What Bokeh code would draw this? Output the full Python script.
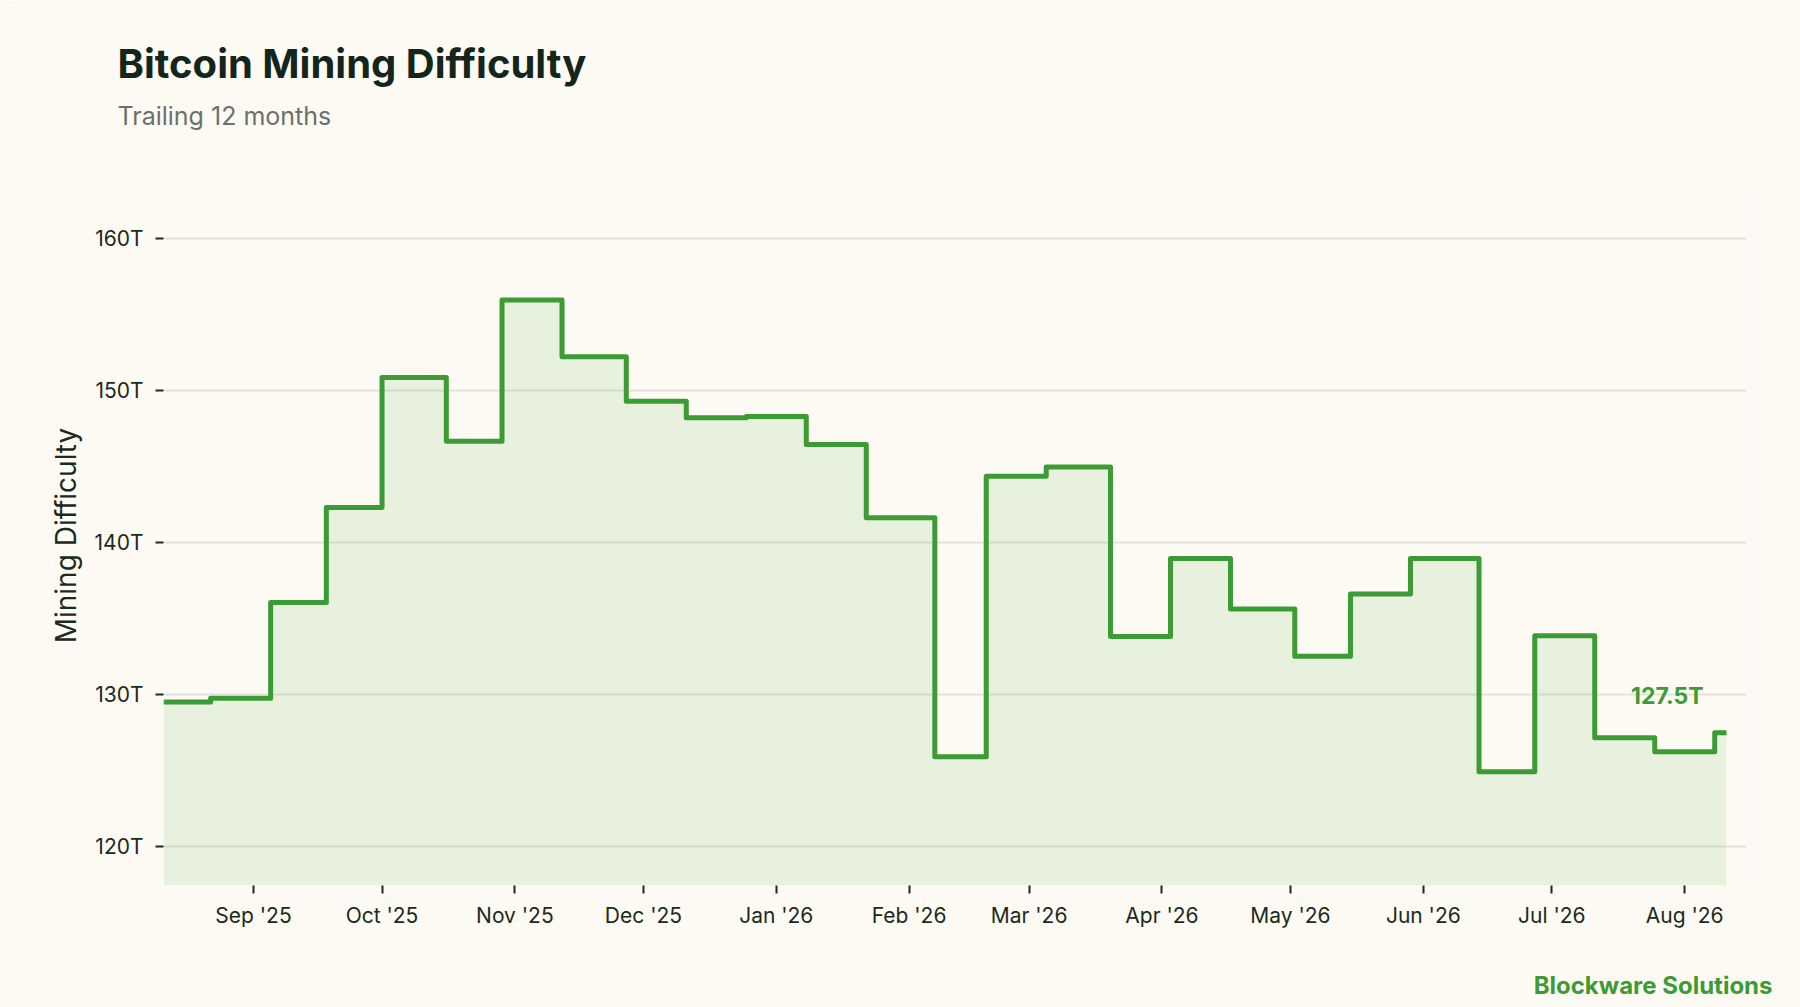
import pandas as pd
from bokeh.plotting import figure
from bokeh.models import Range1d, FixedTicker, Label, Title
from bokeh.embed import file_html
from bokeh.resources import INLINE

# difficulty adjustments (date the new level starts, level in T)
adjust_dates = ["2025-08-11", "2025-08-22", "2025-09-05", "2025-09-18", "2025-10-01",
                "2025-10-16", "2025-10-29", "2025-11-12", "2025-11-27", "2025-12-11",
                "2025-12-25", "2026-01-08", "2026-01-22", "2026-02-07", "2026-02-19",
                "2026-03-05", "2026-03-20", "2026-04-03", "2026-04-17", "2026-05-02",
                "2026-05-15", "2026-05-29", "2026-06-14", "2026-06-27", "2026-07-11",
                "2026-07-25", "2026-08-08"]
difficulty_t = [129.50, 129.76, 136.05, 142.30, 150.87, 146.67, 155.97, 152.23, 149.30,
                148.21, 148.30, 146.45, 141.64, 125.91, 144.37, 144.97, 133.82, 138.95,
                135.62, 132.52, 136.62, 138.95, 124.92, 133.87, 127.15, 126.23, 127.48]
last_date = "2026-08-10 18:00"
latest_label = "127.5T"

month_ticks = ["2025-09-01", "2025-10-01", "2025-11-01", "2025-12-01", "2026-01-01",
               "2026-02-01", "2026-03-01", "2026-04-01", "2026-05-01", "2026-06-01",
               "2026-07-01", "2026-08-01"]
month_labels = ["Sep '25", "Oct '25", "Nov '25", "Dec '25", "Jan '26", "Feb '26",
                "Mar '26", "Apr '26", "May '26", "Jun '26", "Jul '26", "Aug '26"]
y_ticks = [120, 130, 140, 150, 160]
y_labels = ["120T", "130T", "140T", "150T", "160T"]

BG = "#fcfaf2"
GREEN = "#3d9b35"
DARK = "#1b2a20"
FONT = "Inter"

x = [pd.Timestamp(d) for d in adjust_dates + [last_date]]
y = difficulty_t + [difficulty_t[-1]]
y_floor = 117.43

p = figure(width=1800, height=1007, x_axis_type="datetime",
           output_backend="svg", toolbar_location=None,
           title="Bitcoin Mining Difficulty",
           x_range=Range1d(pd.Timestamp("2025-08-11"), pd.Timestamp("2026-08-15 10:00")),
           y_range=Range1d(y_floor, 163.5),
           min_border_left=163, min_border_right=54,
           min_border_top=185, min_border_bottom=122)
p.background_fill_color = BG
p.border_fill_color = BG
p.outline_line_color = None

# header: blank spacer next to the plot, then subtitle, main title outermost
p.title.text_font = FONT
p.title.text_font_size = "40px"
p.title.text_font_style = "bold"
p.title.text_color = "#14261b"
p.title.align = "left"
p.title.offset = -46
p.title.standoff = 22
p.add_layout(Title(text=" ", text_font_size="2px", standoff=51), "above")
p.add_layout(Title(text="Trailing 12 months", text_font=FONT,
                   text_font_size="25px", text_font_style="normal",
                   text_color="#6b716a", align="left", offset=-46, standoff=0), "above")

p.varea_step(x=x, y1=[y_floor] * len(y), y2=y, step_mode="after",
             fill_color=GREEN, fill_alpha=0.1)
p.step(x, y, mode="after", line_color=GREEN, line_width=5, line_join="round")

# axes
tick_ms = [pd.Timestamp(d).value // 10**6 for d in month_ticks]
p.xaxis.ticker = FixedTicker(ticks=tick_ms)
p.xaxis.major_label_overrides = dict(zip(tick_ms, month_labels))
p.yaxis.ticker = FixedTicker(ticks=y_ticks)
p.yaxis.major_label_overrides = dict(zip(y_ticks, y_labels))
p.yaxis.axis_label = "Mining Difficulty"

for ax in (p.xaxis, p.yaxis):
    ax.axis_line_color = None
    ax.major_tick_line_color = DARK
    ax.major_tick_line_width = 2
    ax.major_tick_out = 8
    ax.major_tick_in = 0
    ax.minor_tick_line_color = None
    ax.major_label_text_font = FONT
    ax.major_label_text_font_size = "21px"
    ax.major_label_text_color = DARK
    ax.axis_label_text_font = FONT
    ax.axis_label_text_font_size = "28px"
    ax.axis_label_text_font_style = "normal"
    ax.axis_label_text_color = DARK
p.xaxis.major_label_standoff = 9
p.yaxis.major_label_standoff = 12
p.yaxis.axis_label_standoff = 9

p.xgrid.grid_line_color = None
p.ygrid.grid_line_color = "#e2e4db"
p.ygrid.grid_line_width = 2

p.add_layout(Label(x=pd.Timestamp(last_date), y=difficulty_t[-1], x_offset=-23, y_offset=37,
                   text=latest_label, text_font=FONT, text_font_size="23px",
                   text_font_style="bold", text_color=GREEN,
                   text_align="right", text_baseline="alphabetic"))

# footer credit under the date axis, pushed down by a blank spacer
p.add_layout(Title(text=" ", text_font_size="2px", standoff=34), "below")
p.add_layout(Title(text="Blockware Solutions", text_font=FONT,
                   text_font_size="24px", text_font_style="bold", text_color=GREEN,
                   align="right", offset=-26, standoff=0), "below")

open("out.html", "w").write(file_html(p, INLINE))
